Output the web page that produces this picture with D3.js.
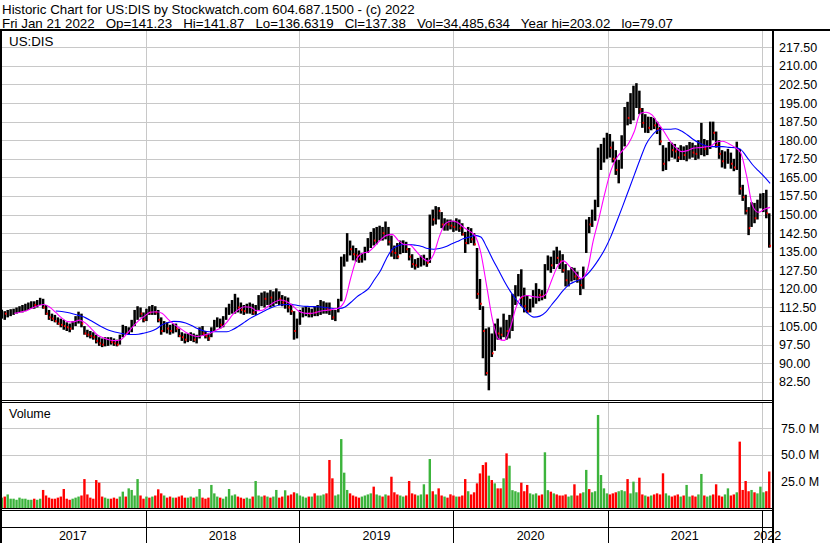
<!DOCTYPE html>
<html><head><meta charset="utf-8">
<script src="https://cdn.jsdelivr.net/npm/d3@7"></script>
<style>html,body{margin:0;padding:0;background:#fff;}svg{display:block;font-family:"Liberation Sans",Arial,sans-serif;}</style>
</head><body><svg id="c" width="830" height="543"></svg>
<script>
const titleLine = "Historic Chart for US:DIS by Stockwatch.com 604.687.1500 - (c) 2022";
const quoteLine = "Fri Jan 21 2022   Op=141.23   Hi=141.87   Lo=136.6319   Cl=137.38   Vol=34,485,634   Year hi=203.02   lo=79.07";
const symbolLabel = "US:DIS";
const volumeLabel = "Volume";
const firstWeek = "2017-01-27", lastWeek = "2022-01-21";

const weekLow = [
108.0,107.5,108.5,109.0,109.5,110.0,110.5,110.5,111.0,111.5,
112.0,112.0,112.5,113.5,112.0,109.5,107.5,107.0,106.5,105.5,
104.5,103.5,103.0,102.5,103.5,105.0,106.0,104.5,101.5,100.5,
100.0,99.5,98.0,97.0,96.5,96.8,97.0,97.5,97.0,96.8,
97.5,100.5,101.5,101.5,102.5,105.0,107.5,108.5,106.5,107.0,
109.5,109.5,109.5,106.5,101.5,102.5,102.0,101.5,102.0,102.5,
100.5,99.0,98.0,98.5,99.0,98.5,98.0,100.0,101.0,100.0,
99.0,100.5,103.0,104.5,104.0,104.5,107.5,109.5,110.0,110.0,
110.5,110.0,109.5,110.0,110.0,109.5,109.5,111.5,113.0,112.5,
113.5,112.5,113.0,114.0,113.5,113.0,112.0,110.5,109.5,99.5,
100.0,105.5,108.5,109.0,108.5,108.5,109.0,109.0,109.5,110.0,
110.0,109.5,107.5,107.0,110.5,115.0,129.0,131.0,133.5,131.5,
131.0,130.5,130.6,131.5,134.5,136.5,137.5,138.0,139.5,139.5,
140.0,137.5,133.0,132.0,132.0,134.0,134.5,134.5,131.5,128.5,
127.8,128.5,129.0,129.5,128.9,130.5,145.5,146.0,148.0,144.5,
143.5,143.5,144.0,143.0,143.5,143.0,141.5,134.5,138.0,138.5,
137.5,116.0,111.5,92.0,85.0,79.07,92.5,95.0,99.5,99.4,
100.5,99.5,100.0,103.0,113.5,117.0,113.0,110.5,110.2,110.5,
112.5,114.0,115.0,115.4,116.0,127.5,126.5,128.0,130.0,128.0,
126.5,121.0,121.0,123.0,123.5,122.5,117.5,120.0,134.5,142.5,
145.0,147.5,153.0,168.0,171.0,172.5,173.0,171.0,166.0,162.6,
168.5,177.5,186.0,186.5,188.0,193.0,190.5,185.0,183.0,182.9,
184.0,184.5,182.5,178.0,167.5,168.0,171.5,173.0,172.5,171.2,
172.0,172.0,171.5,172.5,173.0,172.0,172.5,174.0,173.5,174.0,
176.5,180.0,177.0,172.5,169.0,168.5,170.5,168.5,167.5,168.0,
158.0,155.5,150.0,141.7,145.0,146.5,148.0,152.5,151.0,148.5,136.63];

const weekHigh = [
111.6,111.0,111.5,111.8,112.0,112.5,113.0,113.5,114.0,114.5,
115.0,115.0,115.5,116.4,116.0,113.5,111.5,110.0,109.5,108.5,
108.0,107.5,106.5,106.0,107.0,109.0,110.8,110.0,105.0,103.5,
103.0,102.5,101.5,100.5,100.0,100.5,100.5,100.5,100.0,99.5,
101.5,105.5,105.0,104.5,107.5,111.5,113.0,112.5,110.5,112.0,
113.0,113.5,113.0,111.5,108.5,107.0,106.5,105.5,106.0,106.0,
104.0,102.5,102.0,102.0,102.5,102.0,101.5,104.5,105.0,103.0,
102.0,104.5,107.5,108.5,108.0,109.0,112.5,114.0,115.5,118.0,
116.5,114.5,113.5,114.0,114.5,114.0,113.5,117.5,118.5,119.0,
118.5,119.5,119.0,120.2,119.0,117.5,117.0,116.5,114.0,111.0,
108.0,111.5,112.5,113.0,112.5,112.0,113.0,113.5,115.5,115.0,
114.5,114.5,111.5,111.5,116.0,133.0,134.0,142.5,139.5,137.5,
136.5,135.5,134.5,137.0,140.5,143.0,144.5,145.0,145.5,145.0,
147.2,145.0,141.5,137.5,138.5,139.5,139.6,139.0,136.5,134.0,
132.0,132.5,133.5,133.8,132.5,150.0,152.0,153.4,153.0,151.0,
148.5,148.0,148.0,147.5,148.5,148.0,146.5,143.0,145.0,144.5,
142.5,136.5,124.0,113.0,104.0,104.5,102.0,106.0,108.0,104.5,
110.0,107.5,109.5,118.0,121.5,126.0,127.9,120.5,117.5,116.0,
119.5,122.3,120.0,119.5,130.0,133.5,133.0,135.5,137.0,135.5,
134.0,130.0,127.5,128.8,128.5,127.0,124.0,129.0,148.0,149.0,
152.0,156.0,177.0,178.5,181.0,183.0,182.5,179.5,176.0,172.0,
182.0,193.4,195.5,199.0,202.0,203.02,200.0,193.0,190.5,189.5,
189.4,189.0,187.5,185.4,178.0,177.0,179.3,179.0,178.5,177.0,
178.0,177.5,178.0,179.3,179.0,178.0,180.0,187.0,180.5,180.0,
187.5,187.5,183.5,180.0,176.0,175.5,176.5,175.0,172.5,179.4,
176.5,162.0,158.0,153.0,155.0,154.7,156.0,158.5,158.7,160.0,150.5];

const weekClose = [
110.5,110.0,110.5,111.0,111.0,111.5,112.0,112.5,113.0,113.5,
114.0,113.5,114.5,115.5,112.5,110.0,108.5,108.0,107.0,106.0,
105.5,105.0,104.5,104.0,106.0,108.0,109.0,106.0,102.0,101.5,
101.0,100.5,99.0,98.0,97.5,98.5,99.0,98.5,98.0,97.5,
100.5,104.0,102.0,103.5,106.5,109.0,110.5,110.0,107.5,111.0,
110.5,111.5,110.5,107.5,103.0,105.5,104.0,103.0,104.5,104.0,
101.0,100.5,99.5,100.5,101.0,99.5,100.5,103.5,102.0,101.0,
100.0,104.0,106.0,106.5,105.5,108.0,111.0,112.0,113.5,115.5,
112.5,111.5,111.0,112.5,113.0,110.5,112.0,116.5,117.0,116.0,
117.5,116.5,117.0,118.0,116.0,114.5,115.5,112.5,111.0,103.0,
106.5,110.5,111.0,111.5,110.0,111.0,110.5,112.0,113.0,114.0,
112.0,111.5,108.5,111.0,115.5,130.5,132.5,139.0,136.0,134.0,
133.5,132.0,132.0,135.5,139.0,141.0,139.5,143.0,144.5,142.5,
143.5,139.0,135.0,134.5,133.0,137.5,138.0,136.0,133.0,130.0,
129.5,131.0,131.5,132.0,130.5,148.5,148.0,152.0,151.5,146.0,
147.0,146.0,145.5,145.0,145.5,144.5,142.0,138.5,143.0,140.0,
138.0,118.0,114.0,103.0,86.0,97.0,94.0,104.5,102.0,101.5,
104.5,103.0,103.5,117.0,117.5,125.0,116.5,113.0,111.0,114.0,
117.0,118.0,117.5,117.0,129.0,131.0,129.5,133.5,132.5,131.0,
127.5,123.5,124.0,126.0,125.0,124.0,121.5,128.0,146.5,146.0,
148.5,155.0,175.5,176.0,177.0,181.0,177.0,172.5,168.0,168.0,
180.5,190.0,189.0,194.0,195.5,199.0,192.5,187.0,187.5,185.0,
187.0,186.0,184.5,179.5,170.5,173.0,178.5,176.0,175.5,173.0,
176.5,174.0,175.5,177.5,175.0,174.5,178.0,181.0,176.5,178.5,
186.5,183.0,178.0,174.5,171.5,173.0,174.5,170.5,169.0,175.0,
160.5,157.0,151.5,144.5,153.5,148.5,154.5,154.9,155.5,150.5,137.38];

// weekly peak daily volume, millions of shares
const weekVolume = [
10,11,13,9,9,8,10,9,9,8,
8,9,8,9,17.2,12,10,9,9,10,
11,18.1,9,8,9,10,11,12,27.4,13,
10,9,26.5,24.0,11,10,9,9,10,9,
11,15.6,11,18.7,17.2,12,27.4,12,9,11,
10,11,12,17.8,14,12,10,11,10,10,
11,12,10,10,11,10,11,18.1,10,9,
10,21.9,14,11,10,9,11,18.1,12,13,
11,10,9,10,9,11,25.6,12,11,12,
11,10,11,17.2,10,11,16.9,12,13,15,
14,12,11,10,11,11,14.0,12,12,13,
14,45.3,28.1,12,13,64.9,33.4,17.2,14,12,
11,10,11,12,13,14,20.3,13,12,11,
13,12,29.6,15,13,12,11,12,25.6,14,
13,12,13,22.5,13,46.2,16,13,18.7,12,
11,10,13.1,12,11,11,12,27.4,16,13,
15,23.4,32.7,40.6,43.1,30.6,26.5,23.4,18.7,18.7,
28.1,51.5,39.9,17,16,15,24,16,21.9,14,
13,14,12,13,52.5,17,15.6,14,13,12,
12,13,11,12,22.5,12,14,15,36,18,
15,16,87.5,31.2,18.7,14,13,14,15,16,
17,16,27.4,14,25,15,28.7,13,12,11,
12,13,14,13,32.8,14,12,11,12,13,
11,12,21.9,11,12,11,13,32.2,12,11,
12,13,22.5,12,11,13,18.7,12,13,15,
62.5,17.2,25.6,16,17.2,15,14,20.3,15,16,34.5];

// moving averages read every second week (null = not yet drawn)
const maFast = [
null,null,110.1,110.6,111.2,112.3,113.2,113.7,112.6,110.5,
108.3,106.8,106.7,107.4,106.3,104.0,101.5,100.3,99.5,99.1,
99.5,101.7,104.6,107.1,108.9,110.6,110.8,110.2,107.8,105.8,
104.2,102.5,101.4,100.8,101.3,101.9,103.1,104.3,106.6,109.7,
111.8,112.8,112.6,111.2,111.4,113.0,114.6,115.5,115.0,113.5,
111.3,110.3,110.1,110.4,111.1,111.4,111.8,112.4,115.5,124.7,
132.3,134.4,135.0,137.2,139.7,141.6,142.0,139.6,137.9,137.7,
135.3,132.8,131.2,133.9,141.3,146.3,147.4,146.9,145.0,143.4,
141.5,134.5,121.0,107.3,99.8,99.2,104.4,112.8,116.9,117.3,
116.8,116.6,117.8,123.5,129.1,131.3,129.2,126.6,124.2,127.2,
139.0,148.4,158.5,167.5,172.8,175.8,178.6,183.5,190.8,191.3,
190.2,186.9,183.6,179.8,177.1,175.4,175.8,176.8,177.0,177.3,
177.7,179.4,179.6,178.6,177.2,175.0,165.8,153.7,150.9,152.1,
152.9];
const maSlow = [
null,null,null,null,null,null,null,null,null,111.1,
110.9,110.5,109.9,109.2,108.4,107.1,105.7,104.4,103.3,102.6,
102.1,101.7,101.6,101.7,102.2,102.8,103.8,105.5,106.4,106.9,
106.8,106.2,105.2,104.0,103.1,102.7,102.7,102.7,102.7,103.6,
105.0,106.6,108.2,109.5,110.7,111.9,112.9,113.5,113.7,113.7,
113.3,113.0,112.9,112.8,112.7,112.4,112.1,112.1,112.7,114.6,
116.8,118.4,120.2,123.8,127.3,132.2,136.0,137.4,137.9,137.9,
137.6,137.1,136.3,136.0,136.3,137.0,138.1,139.1,140.2,140.9,
141.6,140.9,136.8,132.0,127.5,123.0,119.0,115.6,112.8,110.0,
108.6,109.0,110.6,113.6,116.5,119.5,121.8,123.0,124.0,125.8,
128.6,132.0,136.0,141.0,147.0,153.2,159.6,166.0,172.4,178.4,
181.9,184.0,184.4,184.4,184.6,183.7,182.1,180.3,178.9,177.9,
177.4,177.4,177.4,177.1,177.0,176.3,173.4,170.2,167.7,165.3,
162.6];

const priceTicks = [82.5,90,97.5,105,112.5,120,127.5,135,142.5,150,157.5,165,172.5,180,187.5,195,202.5,210,217.5];
const volumeTicks = [25,50,75];
const yearLabels = ["2017","2018","2019","2020","2021","2022"];
const chartStart = "2017-01-21", chartEnd = "2022-01-21";

// ---------- drawing ----------
const parse = d3.timeParse("%Y-%m-%d");
const weeks = d3.timeFriday.range(parse(firstWeek), d3.timeDay.offset(parse(lastWeek), 1));
const bars = weeks.map((d, i) => ({date: d, mid: d3.timeDay.offset(d, -2), lo: weekLow[i], hi: weekHigh[i], cl: weekClose[i], vol: weekVolume[i], up: i === 0 ? true : weekClose[i] >= weekClose[i-1]}));

const W = 830, H = 543;
const plotL = 0, plotR = 773;
const priceTop = 31, priceBot = 400;
const volTop = 402, volBot = 508.3;

const x = d3.scaleTime().domain([parse(chartStart), parse(chartEnd)]).range([0.1, 770.1]);
const y = d3.scaleLinear().domain([82.5, 217.5]).range([381.8, 47.3]);
const yv = d3.scaleLinear().domain([0, 75]).range([volBot, 428.3]);

const svg = d3.select("#c");
svg.append("rect").attr("width", W).attr("height", H).attr("fill", "#fff");

const gridColor = "#c8c8c8";
const yearStarts = yearLabels.slice(1).map(y0 => new Date(+y0, 0, 1));

// horizontal gridlines
svg.append("g").selectAll("line").data(priceTicks).join("line")
  .attr("x1", plotL).attr("x2", plotR)
  .attr("y1", d => Math.round(y(d)) + 0.5).attr("y2", d => Math.round(y(d)) + 0.5)
  .attr("stroke", gridColor).attr("stroke-width", 1);
svg.append("g").selectAll("line").data(volumeTicks).join("line")
  .attr("x1", plotL).attr("x2", plotR)
  .attr("y1", d => Math.round(yv(d)) + 0.5).attr("y2", d => Math.round(yv(d)) + 0.5)
  .attr("stroke", gridColor).attr("stroke-width", 1);
// vertical gridlines (year starts)
const vg = svg.append("g");
yearStarts.forEach(d => {
  const xx = Math.round(x(d)) + 0.5;
  vg.append("line").attr("x1", xx).attr("x2", xx).attr("y1", priceTop).attr("y2", priceBot).attr("stroke", gridColor);
  vg.append("line").attr("x1", xx).attr("x2", xx).attr("y1", volTop).attr("y2", volBot).attr("stroke", gridColor);
  vg.append("line").attr("x1", xx).attr("x2", xx).attr("y1", 510).attr("y2", H).attr("stroke", "#000");
});

// price bars
const pg = svg.append("g");
pg.selectAll("rect.bar").data(bars).join("rect").attr("class", "bar")
  .attr("x", d => x(d.mid) - 1.25).attr("width", 2.5)
  .attr("y", d => y(d.hi)).attr("height", d => Math.max(1, y(d.lo) - y(d.hi)))
  .attr("fill", "#000");
pg.selectAll("rect.cl").data(bars.filter(d => !d.up)).join("rect").attr("class", "cl")
  .attr("x", d => x(d.mid) + 0.2).attr("width", 1.6)
  .attr("y", d => y(d.cl) - 1).attr("height", 2)
  .attr("fill", "#ff0000");

// moving averages
const maPts = arr => arr.map((v, k) => ({date: weeks[2 * k], v}));
const line = d3.line().defined(d => d.v != null).x(d => x(d.date)).y(d => y(d.v)).curve(d3.curveMonotoneX);
svg.append("path").attr("d", line(maPts(maSlow))).attr("fill", "none").attr("stroke", "#0000ff").attr("stroke-width", 1.1);
svg.append("path").attr("d", line(maPts(maFast))).attr("fill", "none").attr("stroke", "#ff00ff").attr("stroke-width", 1.1);

// volume bars
svg.append("g").selectAll("rect").data(bars).join("rect")
  .attr("x", d => x(d.mid) - 1.2).attr("width", 2.4)
  .attr("y", d => yv(d.vol)).attr("height", d => volBot - yv(d.vol))
  .attr("fill", d => d.up ? "#3cb43c" : "#ff0000");

// frame lines
const frame = svg.append("g").attr("stroke", "#000").attr("shape-rendering", "crispEdges");
frame.append("line").attr("x1", 0).attr("x2", W).attr("y1", 30).attr("y2", 30).attr("stroke-width", 2);
frame.append("line").attr("x1", 0).attr("x2", plotR).attr("y1", 400.5).attr("y2", 400.5).attr("stroke-width", 1);
frame.append("line").attr("x1", 0).attr("x2", plotR).attr("y1", 402.5).attr("y2", 402.5).attr("stroke-width", 1);
frame.append("line").attr("x1", 0).attr("x2", plotR).attr("y1", 508.5).attr("y2", 508.5).attr("stroke-width", 1);
frame.append("line").attr("x1", 0).attr("x2", plotR).attr("y1", 510.5).attr("y2", 510.5).attr("stroke-width", 1);
frame.append("line").attr("x1", 0).attr("x2", plotR).attr("y1", 527.5).attr("y2", 527.5).attr("stroke-width", 1);
frame.append("line").attr("x1", 1).attr("x2", 1).attr("y1", 30).attr("y2", H).attr("stroke-width", 2);
frame.append("line").attr("x1", 773).attr("x2", 773).attr("y1", 30).attr("y2", H).attr("stroke-width", 2);

// price axis (right)
const pAxis = d3.axisRight(y).tickValues(priceTicks).tickSize(0).tickPadding(0).tickFormat(d3.format(".2f"));
const pa = svg.append("g").attr("transform", "translate(779,0)").call(pAxis);
pa.select(".domain").remove();
pa.selectAll("text").attr("font-size", 12.5).attr("fill", "#000").attr("font-family", '"Liberation Sans",Arial,sans-serif');

// volume axis
const vAxis = d3.axisRight(yv).tickValues(volumeTicks).tickSize(0).tickPadding(0).tickFormat(d => d3.format(".1f")(d) + " M");
const va = svg.append("g").attr("transform", "translate(781,0)").call(vAxis);
va.select(".domain").remove();
va.selectAll("text").attr("font-size", 12.5).attr("fill", "#000").attr("font-family", '"Liberation Sans",Arial,sans-serif');

// year labels
const bounds = [0].concat(yearStarts.map(d => x(d))).concat([plotR]);
svg.append("g").selectAll("text").data(yearLabels).join("text")
  .attr("x", (d, i) => (bounds[i] + bounds[i + 1]) / 2).attr("y", 540)
  .attr("text-anchor", "middle").attr("font-size", 12.5).attr("fill", "#000").text(d => d);

// header & panel labels
const hdr = svg.append("g").attr("font-size", 13.33).attr("fill", "#000");
hdr.append("text").attr("x", 2).attr("y", 13.5).text(titleLine);
hdr.append("text").attr("x", 2).attr("y", 27.5).attr("xml:space", "preserve").style("white-space", "pre").text(quoteLine);
hdr.append("text").attr("x", 9).attr("y", 46).text(symbolLabel);
hdr.append("text").attr("x", 9).attr("y", 418).attr("font-size", 12.5).text(volumeLabel);
</script></body></html>
